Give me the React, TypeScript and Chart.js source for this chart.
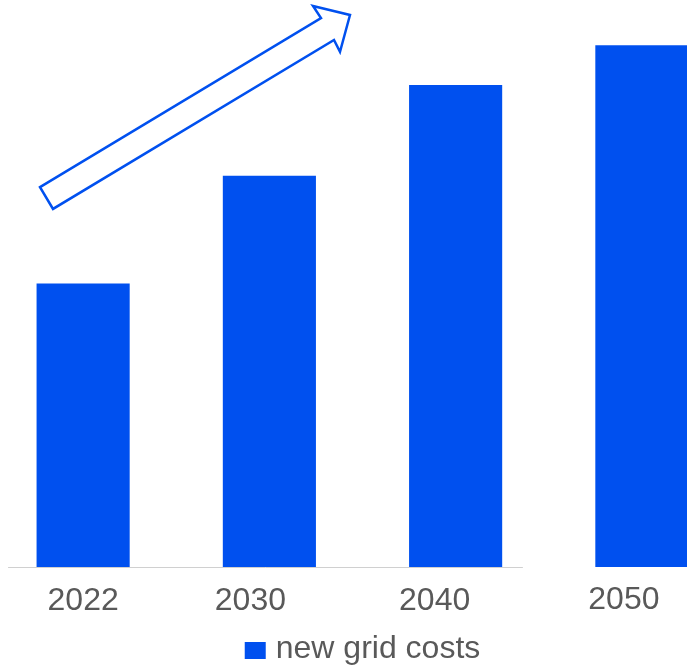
import React, { useEffect, useRef } from "react";
import { Chart, registerables } from "chart.js";

Chart.register(...registerables);

const categories = ["2022", "2030", "2040", "2050"];
const gridCosts = [100, 138, 170, 184];
const seriesLabel = "new grid costs";
const yMax = 200;

// annotation arrow outline in data space: [category index, value]
const arrowPoints: [number, number][] = [
  [-0.2315, 134.0],
  [1.2772, 193.6],
  [1.2342, 197.9],
  [1.4329, 194.7],
  [1.3792, 181.7],
  [1.347, 185.9],
  [-0.1617, 126.3],
];
const axisLineRange = [-0.403, 2.361];
const labelDx = [0, -19, -21, -18];
const labelDy = [0, 0, 0, -1.5];

const BLUE = "#0050EF";
const TEXT = "#595959";
const FONT = "32px 'Liberation Sans', Arial, sans-serif";

const decorPlugin = {
  id: "decor",
  beforeDatasetsDraw(chart: any) {
    const { ctx, scales } = chart;
    const x = scales.x;
    const y = scales.y;
    const y0 = Math.round(y.getPixelForValue(0)) + 0.5;
    ctx.save();
    ctx.strokeStyle = "#d0d0d0";
    ctx.lineWidth = 1;
    ctx.beginPath();
    ctx.moveTo(x.getPixelForValue(axisLineRange[0]), y0);
    ctx.lineTo(x.getPixelForValue(axisLineRange[1]), y0);
    ctx.stroke();
    ctx.restore();
  },
  afterDatasetsDraw(chart: any) {
    const { ctx, scales } = chart;
    const x = scales.x;
    const y = scales.y;
    ctx.save();
    // arrow
    ctx.beginPath();
    arrowPoints.forEach(([i, v], k) => {
      const px = x.getPixelForValue(i);
      const py = y.getPixelForValue(v);
      if (k === 0) ctx.moveTo(px, py);
      else ctx.lineTo(px, py);
    });
    ctx.closePath();
    ctx.fillStyle = "#ffffff";
    ctx.fill();
    ctx.strokeStyle = BLUE;
    ctx.lineWidth = 2.5;
    ctx.lineJoin = "miter";
    ctx.stroke();

    // category labels
    ctx.font = FONT;
    ctx.fillStyle = TEXT;
    ctx.textAlign = "center";
    ctx.textBaseline = "alphabetic";
    const base = y.getPixelForValue(0);
    categories.forEach((c, i) => {
      ctx.fillText(c, x.getPixelForValue(i) + labelDx[i], base + 43 + labelDy[i]);
    });

    // legend
    const tw = ctx.measureText(seriesLabel).width;
    const boxW = 21;
    const boxH = 17;
    const gap = 10;
    const total = boxW + gap + tw;
    const left = chart.width / 2 - total / 2;
    const legBase = base + 91;
    ctx.fillStyle = BLUE;
    ctx.fillRect(left, legBase - 16, boxW, boxH);
    ctx.fillStyle = TEXT;
    ctx.textAlign = "left";
    ctx.fillText(seriesLabel, left + boxW + gap, legBase);
    ctx.restore();
  },
};

export default function App() {
  const ref = useRef<HTMLCanvasElement>(null);
  useEffect(() => {
    if (!ref.current) return;
    const chart = new Chart(ref.current, {
      type: "bar",
      data: {
        labels: categories,
        datasets: [
          {
            label: seriesLabel,
            data: gridCosts,
            backgroundColor: BLUE,
            borderWidth: 0,
            barPercentage: 0.5,
            categoryPercentage: 1,
          },
        ],
      },
      options: {
        animation: false,
        responsive: false,
        devicePixelRatio: 1,
        layout: { padding: { top: 0, bottom: 99, left: 0, right: 0 } },
        plugins: {
          legend: { display: false },
          tooltip: { enabled: false },
        },
        scales: {
          x: { display: false, offset: true },
          y: { display: false, min: 0, max: yMax },
        },
      },
      plugins: [decorPlugin],
    });
    return () => chart.destroy();
  }, []);
  return (
    <div
      style={{
        position: "fixed",
        left: 0,
        top: 0,
        width: 687,
        height: 666,
        overflow: "hidden",
        background: "#ffffff",
      }}
    >
      <canvas
        ref={ref}
        width={745}
        height={666}
        style={{ position: "absolute", left: -10, top: 0, width: 745, height: 666 }}
      />
    </div>
  );
}
